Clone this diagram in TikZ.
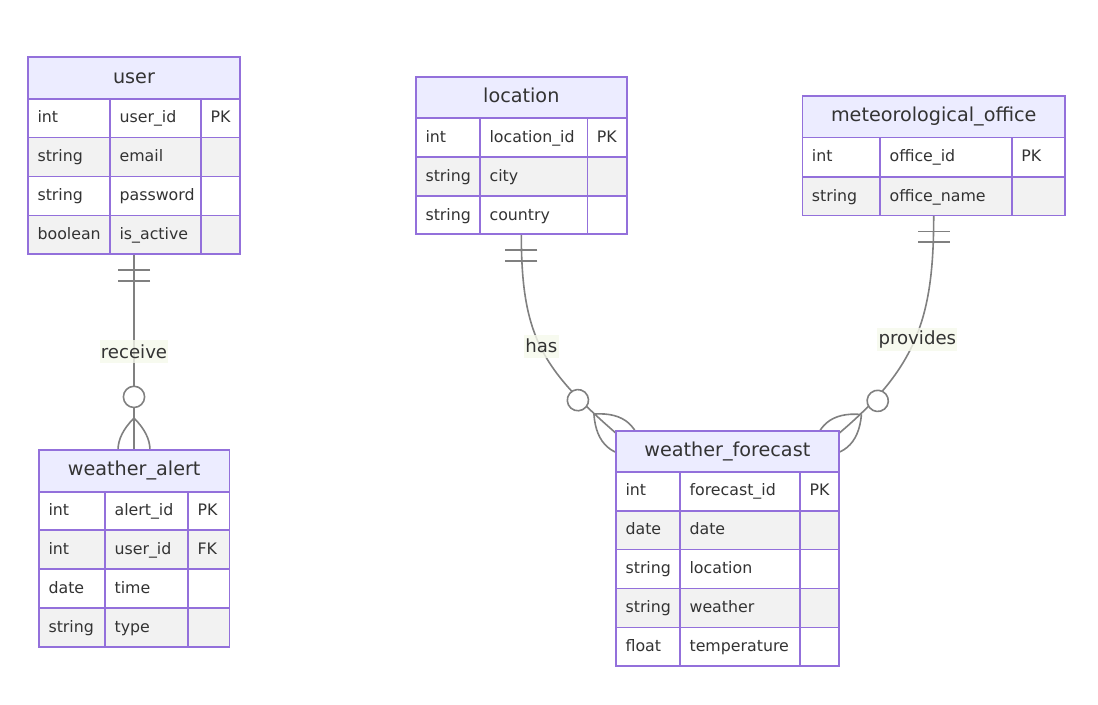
\documentclass[tikz,border=0pt]{standalone}
\usepackage{fontspec}
\setmainfont{DejaVu Sans}
\usetikzlibrary{decorations.markings}

\definecolor{boxline}{HTML}{9370DB}
\definecolor{headfill}{HTML}{ECECFF}
\definecolor{rowgray}{HTML}{F2F2F2}
\definecolor{edgegray}{HTML}{808080}
\definecolor{labelbg}{RGB}{246,249,236}
\definecolor{txt}{HTML}{333333}

% two bars at the start, circle and crow's foot at the end
\newcommand{\onebars}{\draw [relline] (16,-16) -- (16,16) (26.6,-16) -- (26.6,16);}
\newcommand{\crowfoot}{%
  \draw [relline] (-31.9,0) .. controls (-10.6,21.3) and (10.6,21.3) .. (31.9,0)
    .. controls (10.6,-21.3) and (-10.6,-21.3) .. (-31.9,0);
  \draw [relline, fill=white] (-53.1,0) circle (10.6);}

\begin{document}
\begin{tikzpicture}[x=0.75pt, y=-0.75pt,
  entity/.style={draw=boxline, line width=1.2pt},
  headcell/.style={entity, fill=headfill},
  oddrow/.style={entity, fill=white},
  evenrow/.style={entity, fill=rowgray},
  headtext/.style={anchor=base, inner sep=0pt, text=txt, font=\fontsize{14.4}{17}\selectfont},
  celltext/.style={anchor=base west, inner sep=0pt, text=txt, font=\fontsize{11.85}{14}\selectfont},
  relline/.style={draw=edgegray, line width=1.2pt},
  rellabel/.style={fill=labelbg, fill opacity=0.8, text opacity=1, text=txt, inner xsep=1pt, inner ysep=0pt,
    minimum height=17.25pt, font=\fontsize{13.6}{16}\selectfont},
  onemany/.style={postaction={decorate}, decoration={markings,
    mark=at position 0 with {\onebars}, mark=at position 0.9999 with {\crowfoot}}}]

\useasboundingbox (0,0) rectangle (1098,705);
\fill [white] (0,0) rectangle (1098,705);

\coordinate (user-s) at (134,254.3);
\coordinate (alert-n) at (134,450);
\coordinate (loc-s) at (521.3,234.3);
\coordinate (fc-nw) at (618,435);
\coordinate (met-s) at (933.7,215.7);
\coordinate (fc-ne) at (837,435);

% relationships
\draw [relline, onemany] (user-s) -- (alert-n);
\draw [relline, onemany] (loc-s) .. controls +(0,103) and +(-75.5,-65.6) .. (fc-nw);
\draw [relline, onemany] (met-s) .. controls +(0,103) and +(79.7,-66.8) .. (fc-ne);

\node [rellabel] (receive) at (134,351.5) {receive};
\node [rellabel] (has) at (541.3,346.2) {has};
\node [rellabel] (provides) at (917.3,339.3) {provides};

% user
\draw [headcell] (28,57.3) rectangle (240,99);
\draw [oddrow] (28,99) rectangle (240,137.7);
\draw [evenrow] (28,137.7) rectangle (240,176.7);
\draw [oddrow] (28,176.7) rectangle (240,215.7);
\draw [evenrow] (28,215.7) rectangle (240,254.3);
\draw [entity] (110,99) -- (110,254.3) (201,99) -- (201,254.3);

\node [headtext] (user) at (134,83.3) {user};
\node [celltext] (user-1a) at (37.3,123) {int};
\node [celltext] (user-1b) at (119.3,123) {user\_id};
\node [celltext] (user-1c) at (210.3,123) {PK};
\node [celltext] (user-2a) at (37.3,161.7) {string};
\node [celltext] (user-2b) at (119.3,161.7) {email};
\node [celltext] (user-3a) at (37.3,200.7) {string};
\node [celltext] (user-3b) at (119.3,200.7) {password};
\node [celltext] (user-4a) at (37.3,239.7) {boolean};
\node [celltext] (user-4b) at (119.3,239.7) {is\_active};

% weather_alert
\draw [headcell] (39,450) rectangle (229.3,491.7);
\draw [oddrow] (39,491.7) rectangle (229.3,530);
\draw [evenrow] (39,530) rectangle (229.3,569);
\draw [oddrow] (39,569) rectangle (229.3,608);
\draw [evenrow] (39,608) rectangle (229.3,647);
\draw [entity] (105,491.7) -- (105,647) (188,491.7) -- (188,647);

\node [headtext] (alert) at (134.2,475.3) {weather\_alert};
\node [celltext] (alert-1a) at (48.3,515.7) {int};
\node [celltext] (alert-1b) at (114.3,515.7) {alert\_id};
\node [celltext] (alert-1c) at (197.3,515.7) {PK};
\node [celltext] (alert-2a) at (48.3,554) {int};
\node [celltext] (alert-2b) at (114.3,554) {user\_id};
\node [celltext] (alert-2c) at (197.3,554) {FK};
\node [celltext] (alert-3a) at (48.3,593) {date};
\node [celltext] (alert-3b) at (114.3,593) {time};
\node [celltext] (alert-4a) at (48.3,632) {string};
\node [celltext] (alert-4b) at (114.3,632) {type};

% location
\draw [headcell] (416,77.3) rectangle (626.7,118.3);
\draw [oddrow] (416,118.3) rectangle (626.7,157.3);
\draw [evenrow] (416,157.3) rectangle (626.7,196.3);
\draw [oddrow] (416,196.3) rectangle (626.7,234.3);
\draw [entity] (480,118.3) -- (480,234.3) (587.3,118.3) -- (587.3,234.3);

\node [headtext] (loc) at (521.3,102.6) {location};
\node [celltext] (loc-1a) at (425.3,142.3) {int};
\node [celltext] (loc-1b) at (489.3,142.3) {location\_id};
\node [celltext] (loc-1c) at (596.6,142.3) {PK};
\node [celltext] (loc-2a) at (425.3,181.3) {string};
\node [celltext] (loc-2b) at (489.3,181.3) {city};
\node [celltext] (loc-3a) at (425.3,220.3) {string};
\node [celltext] (loc-3b) at (489.3,220.3) {country};

% meteorological_office
\draw [headcell] (802.3,96) rectangle (1065,137.7);
\draw [oddrow] (802.3,137.7) rectangle (1065,177.3);
\draw [evenrow] (802.3,177.3) rectangle (1065,215.7);
\draw [entity] (880,137.7) -- (880,215.7) (1011.7,137.7) -- (1011.7,215.7);

\node [headtext] (met) at (933.7,121.3) {meteorological\_office};
\node [celltext] (met-1a) at (811.6,161.7) {int};
\node [celltext] (met-1b) at (889.3,161.7) {office\_id};
\node [celltext] (met-1c) at (1021,161.7) {PK};
\node [celltext] (met-2a) at (811.6,201.3) {string};
\node [celltext] (met-2b) at (889.3,201.3) {office\_name};

% weather_forecast
\draw [headcell] (616,431) rectangle (838.7,471.7);
\draw [oddrow] (616,471.7) rectangle (838.7,510.7);
\draw [evenrow] (616,510.7) rectangle (838.7,549.3);
\draw [oddrow] (616,549.3) rectangle (838.7,588.3);
\draw [evenrow] (616,588.3) rectangle (838.7,627.3);
\draw [oddrow] (616,627.3) rectangle (838.7,666);
\draw [entity] (680,471.7) -- (680,666) (800,471.7) -- (800,666);

\node [headtext] (fc) at (727.3,456.3) {weather\_forecast};
\node [celltext] (fc-1a) at (625.3,495.7) {int};
\node [celltext] (fc-1b) at (689.3,495.7) {forecast\_id};
\node [celltext] (fc-1c) at (809.3,495.7) {PK};
\node [celltext] (fc-2a) at (625.3,534.7) {date};
\node [celltext] (fc-2b) at (689.3,534.7) {date};
\node [celltext] (fc-3a) at (625.3,573.3) {string};
\node [celltext] (fc-3b) at (689.3,573.3) {location};
\node [celltext] (fc-4a) at (625.3,612.3) {string};
\node [celltext] (fc-4b) at (689.3,612.3) {weather};
\node [celltext] (fc-5a) at (625.3,651.3) {float};
\node [celltext] (fc-5b) at (689.3,651.3) {temperature};

\end{tikzpicture}
\end{document}
